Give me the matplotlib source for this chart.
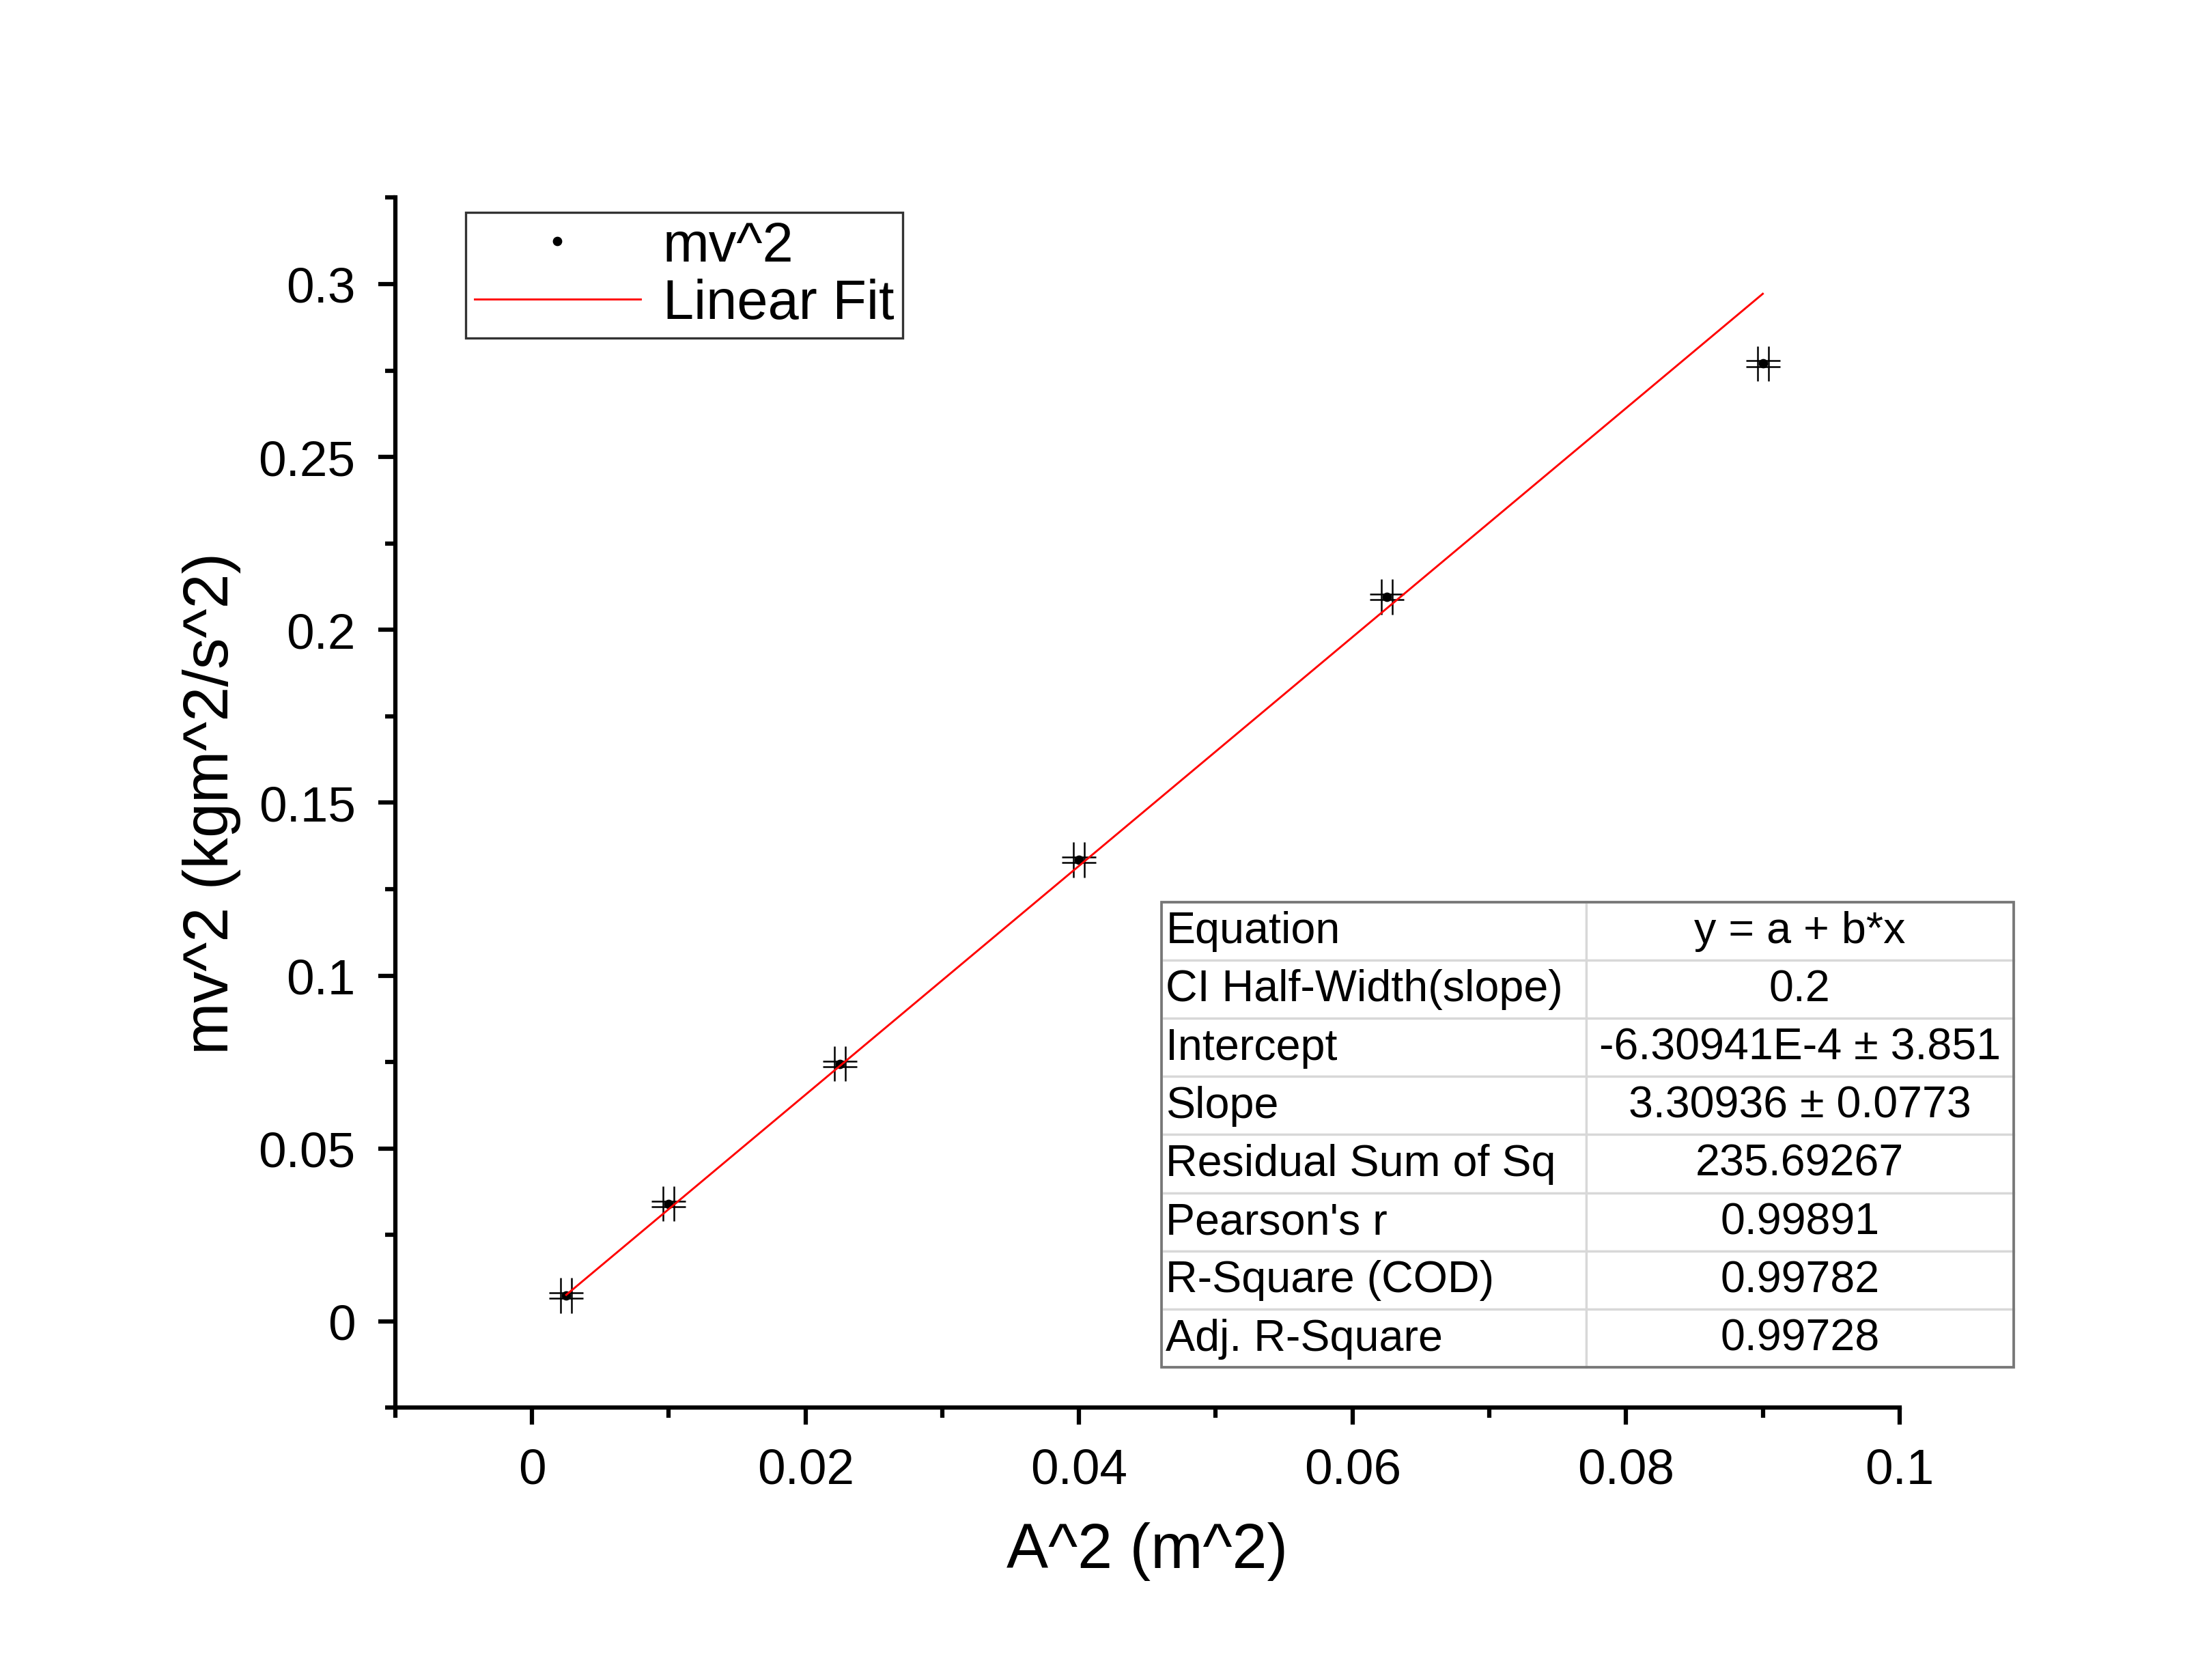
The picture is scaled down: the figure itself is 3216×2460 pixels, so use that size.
import matplotlib.pyplot as plt
from matplotlib.lines import Line2D
from matplotlib.patches import Rectangle

x = [0.0025, 0.01, 0.0225, 0.04, 0.0625, 0.09]
y = [0.0075, 0.034, 0.0745, 0.1335, 0.2095, 0.277]
x_err = [0.00125] * 6
y_err = [0.0051] * 6
intercept = -6.30941e-4
slope = 3.30936

table_rows = [
    ["Equation", "y = a + b*x"],
    ["CI Half-Width(slope)", "0.2"],
    ["Intercept", "-6.30941E-4 \u00b1 3.851"],
    ["Slope", "3.30936 \u00b1 0.0773"],
    ["Residual Sum of Sq", "235.69267"],
    ["Pearson's r", "0.99891"],
    ["R-Square (COD)", "0.99782"],
    ["Adj. R-Square", "0.99728"],
]

plt.rcParams["font.family"] = ["Arial", "Liberation Sans", "DejaVu Sans"]

fig = plt.figure(figsize=(10.72, 8.203), dpi=300)
ax = fig.add_axes([0.18, 0.162, 0.685, 0.72])

# Origin-style "#" error marks: doubled bars, slightly offset
dx, dy = 0.0004, 0.0008
for s in (-1, 1):
    ax.errorbar([v + s * dx for v in x], y, yerr=y_err, fmt="none",
                ecolor="black", elinewidth=0.6)
    ax.errorbar(x, [v + s * dy for v in y], xerr=x_err, fmt="none",
                ecolor="black", elinewidth=0.6)
ax.plot(x, y, "o", ms=2.3, color="black")
fx = [min(x), max(x)]
ax.plot(fx, [intercept + slope * v for v in fx], color="red", lw=0.7)

ax.set_xlim(-0.01, 0.1)
ax.set_ylim(-0.025, 0.325)
ax.set_xticks([0, 0.02, 0.04, 0.06, 0.08, 0.1])
ax.set_xticklabels(["0", "0.02", "0.04", "0.06", "0.08", "0.1"])
ax.set_xticks([-0.01, 0.01, 0.03, 0.05, 0.07, 0.09], minor=True)
ax.set_yticks([0, 0.05, 0.1, 0.15, 0.2, 0.25, 0.3])
ax.set_yticklabels(["0", "0.05", "0.1", "0.15", "0.2", "0.25", "0.3"])
ax.set_yticks([-0.025, 0.025, 0.075, 0.125, 0.175, 0.225, 0.275, 0.325], minor=True)
ax.tick_params(which="major", direction="out", length=6, width=1.5, labelsize=17.5, pad=8)
ax.tick_params(which="minor", direction="out", length=3.5, width=1.5)
for s in ["top", "right"]:
    ax.spines[s].set_visible(False)
for s in ["left", "bottom"]:
    ax.spines[s].set_linewidth(1.5)
ax.set_xlabel("A^2 (m^2)", fontsize=22, labelpad=10)
ax.set_ylabel("mv^2 (kgm^2/s^2)", fontsize=22, labelpad=6)

handles = [Line2D([], [], marker="o", ms=2.3, ls="none", color="black"),
           Line2D([], [], color="red", lw=0.7)]
leg = ax.legend(handles, ["mv^2", "Linear Fit"], loc="upper left",
                bbox_to_anchor=(0.047, 0.988), fontsize=19.5,
                frameon=True, fancybox=False, edgecolor="black", handlelength=3,
                borderpad=0.15, labelspacing=0.1, handletextpad=0.4, borderaxespad=0)
leg.get_frame().set_linewidth(0.8)

tax = fig.add_axes([0.529, 0.186, 0.388, 0.277])
tax.axis("off")
tbl = tax.table(cellText=table_rows, bbox=[0, 0, 1, 1], colWidths=[0.498, 0.502])
tbl.auto_set_font_size(False)
for (r, c), cell in tbl.get_celld().items():
    cell.set_edgecolor("#d8d8d8")
    cell.set_linewidth(0.8)
    cell.get_text().set_fontsize(15.5)
    cell.set_text_props(ha="left" if c == 0 else "center")
    cell.PAD = 0.01
tax.add_patch(Rectangle((0, 0), 1, 1, transform=tax.transAxes, fill=False,
                        edgecolor="#777777", lw=0.9, clip_on=False))

fig.savefig("out.png", dpi=300)
